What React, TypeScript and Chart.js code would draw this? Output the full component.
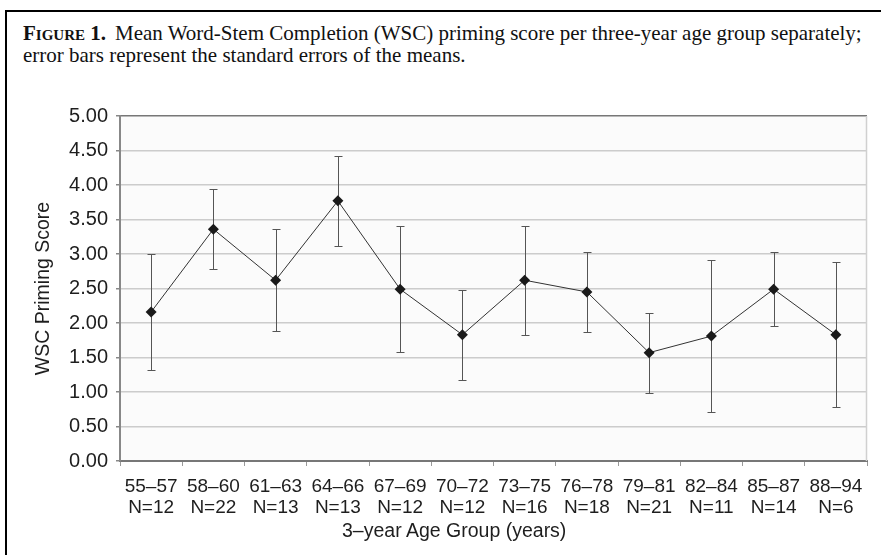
import React, { useEffect, useRef } from "react";
import { Chart, registerables } from "chart.js";

Chart.register(...registerables);

// Three-year age groups, their sizes, mean WSC priming scores and standard errors
const ageGroups = ["55–57", "58–60", "61–63", "64–66", "67–69", "70–72", "73–75", "76–78", "79–81", "82–84", "85–87", "88–94"];
const groupSizes = [12, 22, 13, 13, 12, 12, 16, 18, 21, 11, 14, 6];
const meanScores = [2.16, 3.36, 2.62, 3.77, 2.49, 1.83, 2.62, 2.45, 1.57, 1.81, 2.49, 1.83];
const standardErrors = [0.84, 0.58, 0.74, 0.65, 0.91, 0.65, 0.79, 0.58, 0.58, 1.1, 0.54, 1.05];

const yMin = 0;
const yMax = 5;
const yStep = 0.5;

const FONT = '"Liberation Sans", Arial, sans-serif';
const TEXT = "#1e1e1e";

// Light plot-area fill plus a pale right-hand frame line
const plotFrame = {
  id: "plotFrame",
  beforeDraw(chart: any) {
    const { ctx, chartArea } = chart;
    ctx.save();
    ctx.fillStyle = "#fbfbfb";
    ctx.fillRect(chartArea.left, chartArea.top, chartArea.right - chartArea.left, chartArea.bottom - chartArea.top);
    ctx.restore();
  },
  beforeDatasetsDraw(chart: any) {
    const { ctx, chartArea } = chart;
    ctx.save();
    ctx.strokeStyle = "#d0d0d0";
    ctx.lineWidth = 1.5;
    ctx.beginPath();
    ctx.moveTo(chartArea.right - 0.5, chartArea.top);
    ctx.lineTo(chartArea.right - 0.5, chartArea.bottom);
    ctx.stroke();
    ctx.restore();
  },
};

// Vertical ±1 SE whiskers with short caps, drawn beneath the line and markers
const errorBars = {
  id: "errorBars",
  beforeDatasetsDraw(chart: any) {
    const { ctx } = chart;
    const xs = chart.scales.x;
    const ys = chart.scales.y;
    const cap = 4;
    ctx.save();
    ctx.strokeStyle = "#555";
    ctx.lineWidth = 1;
    meanScores.forEach((m, i) => {
      const cx = Math.round(xs.getPixelForValue(i)) + 0.5;
      const top = Math.round(ys.getPixelForValue(m + standardErrors[i])) + 0.5;
      const bot = Math.round(ys.getPixelForValue(m - standardErrors[i])) + 0.5;
      ctx.beginPath();
      ctx.moveTo(cx, top);
      ctx.lineTo(cx, bot);
      ctx.moveTo(cx - cap, top);
      ctx.lineTo(cx + cap, top);
      ctx.moveTo(cx - cap, bot);
      ctx.lineTo(cx + cap, bot);
      ctx.stroke();
    });
    ctx.restore();
  },
};

function WscChart() {
  const canvasRef = useRef<HTMLCanvasElement | null>(null);

  useEffect(() => {
    const canvas = canvasRef.current;
    if (!canvas) return;
    const chart = new Chart(canvas, {
      type: "line",
      data: {
        labels: ageGroups.map((g, i) => [g, `N=${groupSizes[i]}`]),
        datasets: [
          {
            data: meanScores,
            borderColor: "#333",
            borderWidth: 1,
            pointStyle: "rectRot",
            pointRadius: 5.5,
            pointBackgroundColor: "#1a1a1a",
            pointBorderColor: "#1a1a1a",
            pointBorderWidth: 0,
            tension: 0,
          },
        ],
      },
      options: {
        responsive: false,
        animation: false,
        events: [],
        layout: { padding: { left: 0, right: 14, top: 16, bottom: 0 } },
        plugins: {
          legend: { display: false },
          title: { display: false },
          tooltip: { enabled: false },
        },
        scales: {
          x: {
            type: "category",
            offset: true,
            grid: {
              offset: true,
              drawOnChartArea: false,
              drawTicks: true,
              tickLength: 5,
              tickColor: "#999",
            },
            border: { color: "#777", width: 2 },
            ticks: {
              color: TEXT,
              font: { family: FONT, size: 19, lineHeight: 1.08 },
              padding: 11,
              maxRotation: 0,
              autoSkip: false,
            },
            afterFit(scale: any) {
              scale.height = 94;
            },
          },
          y: {
            min: yMin,
            max: yMax,
            grid: {
              color: (ctx: any) => (ctx.tick && ctx.tick.value === yMax ? "#777" : "#cccccc"),
              lineWidth: 1.5,
              tickLength: 4,
              tickColor: "#888",
            },
            border: { color: "#888", width: 2 },
            ticks: {
              stepSize: yStep,
              color: TEXT,
              font: { family: FONT, size: 20, lineHeight: 0.8 },
              padding: 8,
              callback: (v: any) => Number(v).toFixed(2),
            },
            title: {
              display: true,
              text: "WSC Priming Score",
              color: TEXT,
              font: { family: FONT, size: 19.5 },
              padding: { top: 32, bottom: 0 },
            },
            afterFit(scale: any) {
              scale.width = 120;
            },
          },
        },
      },
      plugins: [plotFrame, errorBars],
    });
    return () => chart.destroy();
  }, []);

  return (
    <canvas
      ref={canvasRef}
      width={881}
      height={455}
      style={{ position: "absolute", left: 0, top: 100, width: 881, height: 455 }}
    />
  );
}

export default function App() {
  return (
    <div style={{ position: "absolute", left: 0, top: 0, width: 881, height: 555, background: "#fff", overflow: "hidden" }}>
      <div
        style={{
          position: "absolute",
          left: 5,
          top: 10,
          width: 876,
          height: 545,
          borderLeft: "2.5px solid #000",
          borderTop: "2.5px solid #000",
        }}
      />
      <div
        style={{
          position: "absolute",
          left: 23,
          top: 22,
          width: 855,
          fontFamily: '"Liberation Serif", "Times New Roman", serif',
          fontSize: 21,
          lineHeight: "22px",
          color: "#111",
          whiteSpace: "nowrap",
        }}
      >
        <div>
          <span style={{ fontWeight: "bold", fontVariant: "small-caps", marginRight: 9 }}>Figure 1.</span>
          Mean Word-Stem Completion (WSC) priming score per three-year age group separately;
        </div>
        <div>error bars represent the standard errors of the means.</div>
      </div>
      <WscChart />
      <div
        style={{
          position: "absolute",
          left: 342,
          top: 519,
          fontFamily: FONT,
          fontSize: 19.5,
          lineHeight: "22px",
          color: TEXT,
          whiteSpace: "nowrap",
        }}
      >
        3–year Age Group (years)
      </div>
    </div>
  );
}
